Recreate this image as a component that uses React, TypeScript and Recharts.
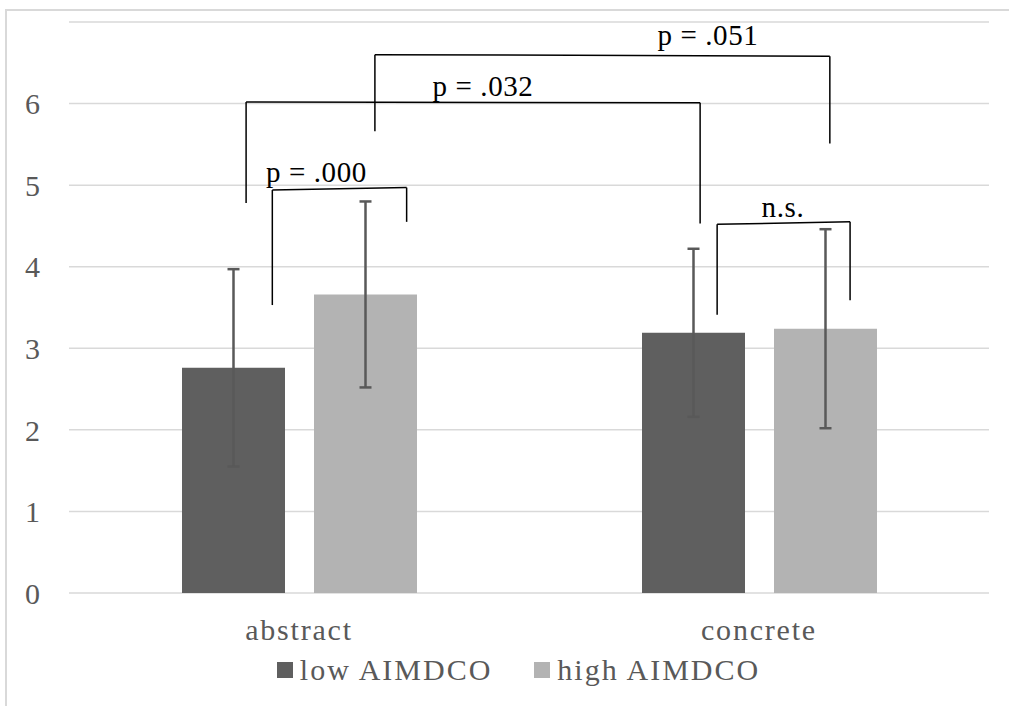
import {
  Bar,
  BarChart,
  CartesianGrid,
  ErrorBar,
  Legend,
  ReferenceDot,
  ReferenceLine,
  XAxis,
  YAxis,
} from "recharts";

const FONT = "Times New Roman";
const TEXT_GRAY = "#595959";

const categories = ["abstract", "concrete"];
const seriesNames = ["low AIMDCO", "high AIMDCO"];
const seriesColors = ["#5f5f5f", "#b3b3b3"];
const lowMeans = [2.76, 3.19];
const lowErrors = [1.21, 1.03];
const highMeans = [3.66, 3.24];
const highErrors = [1.14, 1.22];
const yTicks = [0, 1, 2, 3, 4, 5, 6];
// centre of each category band on the 0..2 position scale
const bandCentres = [0.5, 1.5];

// significance brackets, x on a 0..2 scale across the two category bands
const bracketLabels = ["p = .000", "p = .032", "p = .051", "n.s."];
const bracketLeftX = [0.442, 0.385, 0.665, 1.409];
const bracketRightX = [0.734, 1.372, 1.654, 1.698];
const bracketLeftBottom = [3.53, 4.78, 5.66, 3.41];
const bracketLeftTop = [4.94, 6.02, 6.6, 4.52];
const bracketRightTop = [4.97, 6.01, 6.58, 4.55];
const bracketRightBottom = [4.55, 4.53, 5.51, 3.59];
const labelX = [0.538, 0.9, 1.389, 1.552];
const labelY = [5.04, 6.09, 6.72, 4.61];

const data = categories.map((cond, i) => ({
  cond,
  pos: bandCentres[i],
  low: lowMeans[i],
  lowErr: lowErrors[i],
  high: highMeans[i],
  highErr: highErrors[i],
}));

function renderLegend() {
  return (
    <div
      style={{
        display: "flex",
        justifyContent: "center",
        alignItems: "center",
        height: 34,
        paddingBottom: 6,
        paddingLeft: 48,
        fontFamily: FONT,
        fontSize: 30,
        letterSpacing: 2,
        color: TEXT_GRAY,
      }}
    >
      {seriesNames.map((name, i) => (
        <div
          key={name}
          style={{ display: "flex", alignItems: "center", marginRight: i === 0 ? 42 : 0 }}
        >
          <span
            style={{
              display: "inline-block",
              width: 16,
              height: 16,
              background: seriesColors[i],
              marginRight: 7,
            }}
          />
          <span style={{ lineHeight: "34px" }}>{name}</span>
        </div>
      ))}
    </div>
  );
}

export default function App() {
  const line = { stroke: "#000", strokeWidth: 1.5, ifOverflow: "visible" as const };
  return (
    <div
      style={{
        position: "absolute",
        left: 0,
        top: 0,
        width: 1009,
        height: 706,
        background: "#fff",
        overflow: "hidden",
      }}
    >
      <div
        style={{
          position: "absolute",
          left: 5,
          top: 9,
          width: 1100,
          height: 800,
          borderTop: "2px solid #d9d9d9",
          borderLeft: "2px solid #d9d9d9",
        }}
      />
      <BarChart
        width={1009}
        height={706}
        data={data}
        margin={{ top: 22, right: 20, bottom: 13, left: 0 }}
        barGap={29}
        style={{ position: "absolute", left: 0, top: 0 }}
      >
        <CartesianGrid vertical={false} stroke="#d9d9d9" strokeWidth={1.5} />
        <XAxis
          dataKey="cond"
          height={60}
          axisLine={false}
          tickLine={false}
          tickSize={0}
          tickMargin={26}
          tick={{ fill: TEXT_GRAY, fontSize: 30, fontFamily: FONT, letterSpacing: 1.8 }}
        />
        <XAxis
          xAxisId="pos"
          dataKey="pos"
          type="number"
          domain={[0, 2]}
          allowDataOverflow
          hide
        />
        <YAxis
          domain={[0, 7]}
          ticks={yTicks}
          width={69}
          axisLine={false}
          tickLine={false}
          tickSize={0}
          tickMargin={29}
          tick={{ fill: TEXT_GRAY, fontSize: 30, fontFamily: FONT }}
        />
        <Legend verticalAlign="bottom" height={40} content={renderLegend} />
        <Bar dataKey="low" name={seriesNames[0]} fill={seriesColors[0]} barSize={103} isAnimationActive={false}>
          <ErrorBar dataKey="lowErr" width={6} stroke={TEXT_GRAY} strokeWidth={2.5} direction="y" />
        </Bar>
        <Bar dataKey="high" name={seriesNames[1]} fill={seriesColors[1]} barSize={103} isAnimationActive={false}>
          <ErrorBar dataKey="highErr" width={6} stroke={TEXT_GRAY} strokeWidth={2.5} direction="y" />
        </Bar>
        {bracketLabels.map((label, i) => (
          <ReferenceLine
            key={`l${label}`}
            xAxisId="pos"
            segment={[
              { x: bracketLeftX[i], y: bracketLeftBottom[i] },
              { x: bracketLeftX[i], y: bracketLeftTop[i] },
            ]}
            {...line}
          />
        ))}
        {bracketLabels.map((label, i) => (
          <ReferenceLine
            key={`t${label}`}
            xAxisId="pos"
            segment={[
              { x: bracketLeftX[i], y: bracketLeftTop[i] },
              { x: bracketRightX[i], y: bracketRightTop[i] },
            ]}
            {...line}
          />
        ))}
        {bracketLabels.map((label, i) => (
          <ReferenceLine
            key={`r${label}`}
            xAxisId="pos"
            segment={[
              { x: bracketRightX[i], y: bracketRightTop[i] },
              { x: bracketRightX[i], y: bracketRightBottom[i] },
            ]}
            {...line}
          />
        ))}
        {bracketLabels.map((label, i) => (
          <ReferenceDot
            key={`d${label}`}
            xAxisId="pos"
            x={labelX[i]}
            y={labelY[i]}
            ifOverflow="visible"
            shape={(p: any) => (
              <text
                x={p.cx}
                y={p.cy}
                textAnchor="middle"
                fontFamily={FONT}
                fontSize={29}
                letterSpacing={0.6}
                fill="#000"
              >
                {label}
              </text>
            )}
          />
        ))}
      </BarChart>
    </div>
  );
}
